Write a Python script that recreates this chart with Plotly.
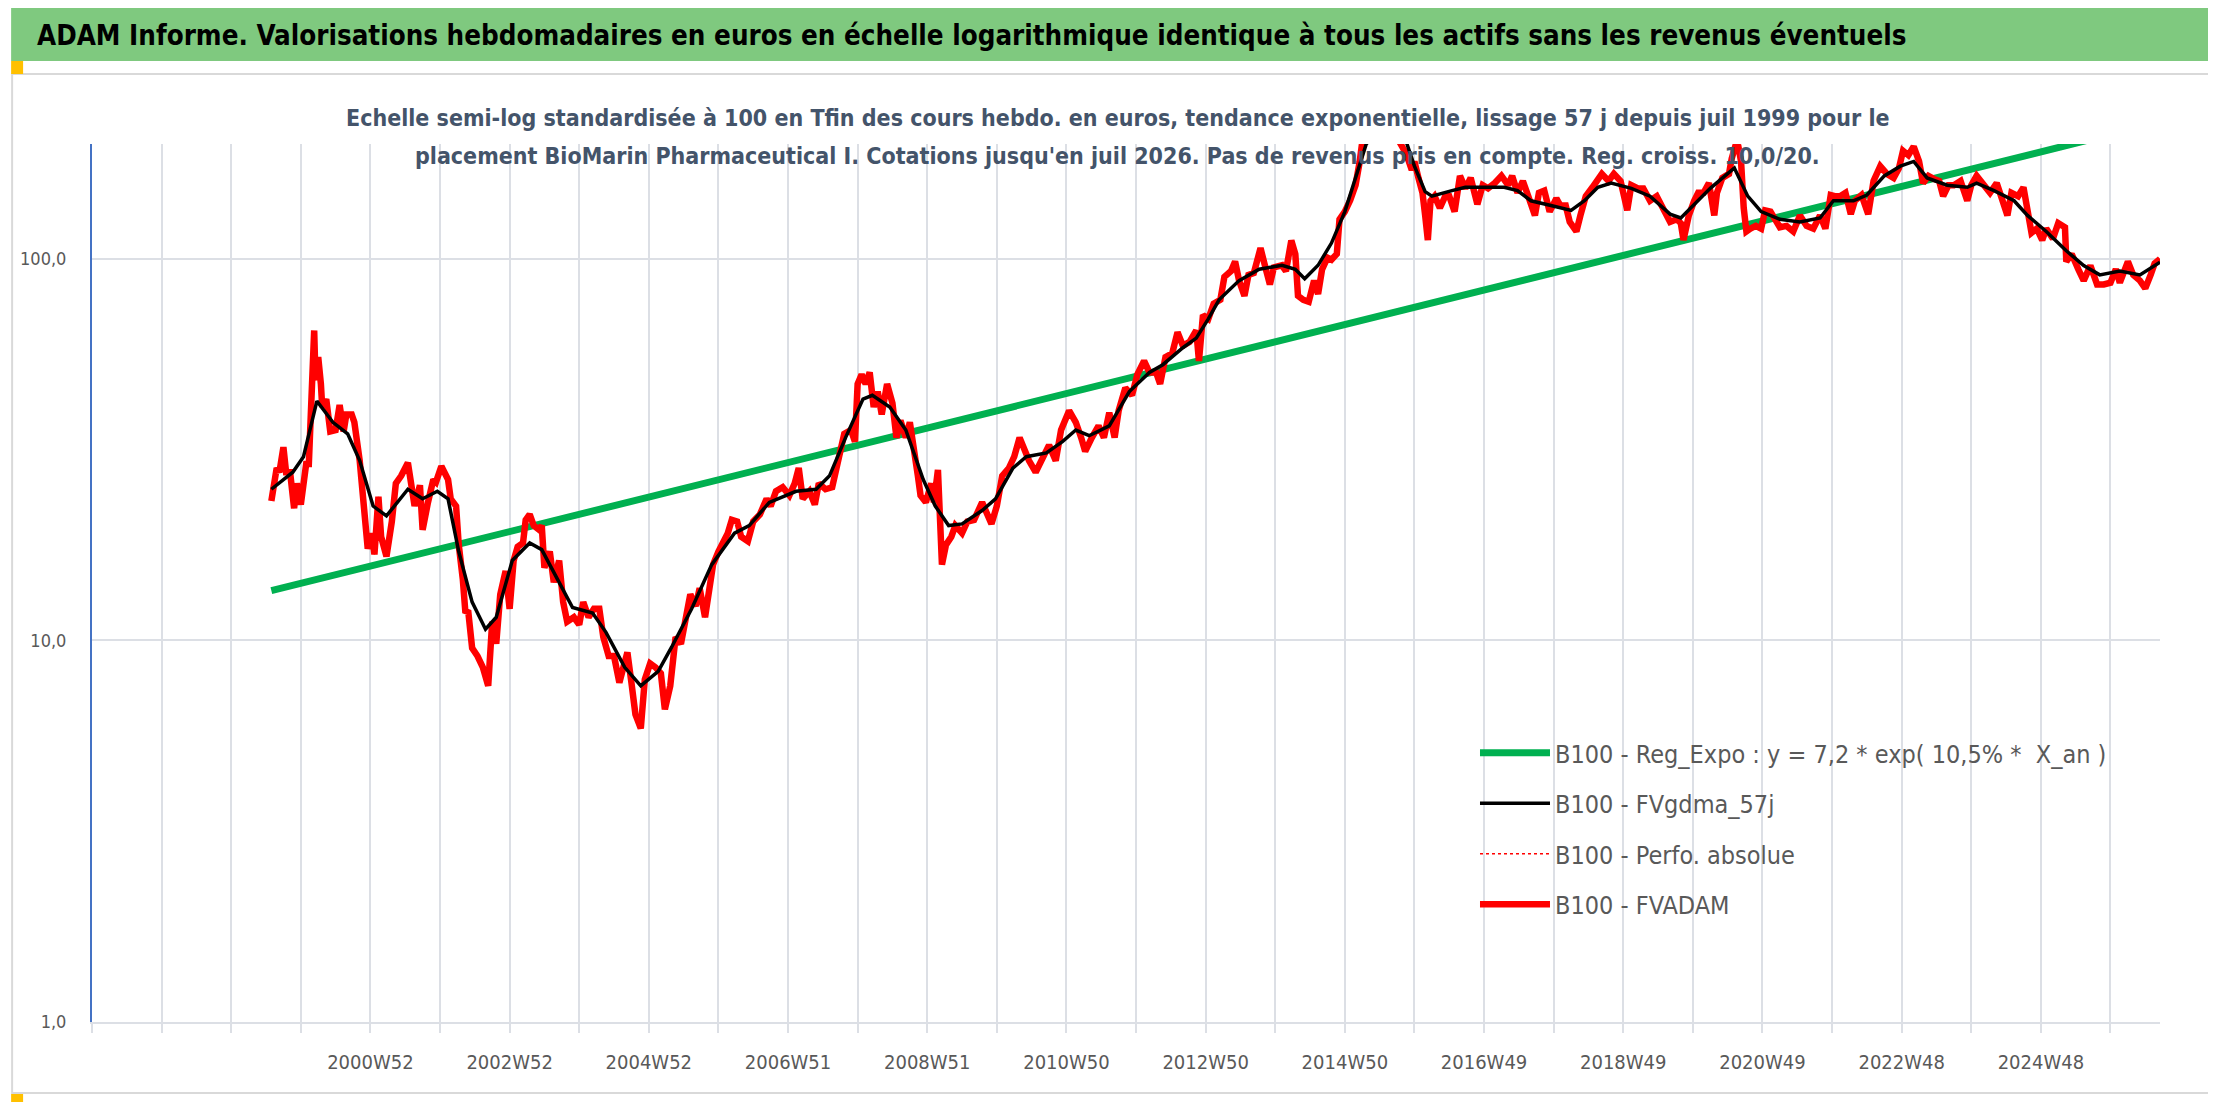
import plotly.graph_objects as go

# ---------------- data (week index from 1997W01 = 0) ----------------
tick_weeks = [208, 312, 416, 520, 624, 728, 832, 936, 1040, 1144, 1248, 1352, 1456]
tick_labels = ["2000W52", "2002W52", "2004W52", "2006W51", "2008W51", "2010W50",
               "2012W50", "2014W50", "2016W49", "2018W49", "2020W49", "2022W48", "2024W48"]

y_tick_vals = [1, 10, 100]
y_tick_text = ["1,0", "10,0", "100,0"]

# B100 - FVADAM (weekly values)
red_week = [134, 135, 138, 140, 143, 145, 148, 151, 153, 156, 160, 162, 164, 166, 167, 169, 171, 172,
            175, 178, 182, 185, 188, 190, 194, 196, 200, 202, 206, 209, 211, 214, 216, 220, 224, 227,
            231, 236, 241, 245, 247, 251, 255, 257, 261, 266, 268, 272, 274, 277, 279, 281, 284, 288,
            292, 296, 299, 302, 305, 309, 312, 315, 318, 322, 324, 327, 330, 334, 336, 338, 342, 345,
            349, 352, 355, 360, 364, 367, 371, 375, 379, 382, 386, 390, 394, 397, 400, 403, 406, 410,
            413, 417, 421, 425, 428, 432, 436, 440, 444, 447, 451, 454, 458, 461, 464, 468, 472, 475,
            478, 482, 485, 490, 494, 499, 504, 507, 511, 516, 521, 525, 528, 531, 536, 540, 543, 548,
            553, 557, 562, 567, 570, 572, 575, 578, 581, 584, 587, 590, 594, 598, 601, 604, 608, 611,
            614, 617, 619, 623, 627, 629, 632, 635, 638, 642, 645, 650, 654, 659, 665, 672, 676, 680,
            685, 689, 693, 696, 700, 705, 710, 715, 720, 724, 730, 735, 739, 742, 747, 752, 756, 760,
            764, 767, 772, 777, 781, 786, 790, 795, 798, 802, 807, 811, 815, 820, 825, 827, 830, 834,
            838, 843, 846, 851, 854, 857, 861, 864, 868, 873, 877, 880, 883, 889, 892, 896, 899, 901,
            905, 909, 913, 916, 919, 923, 926, 930, 932, 936, 940, 944, 947, 950, 955, 960, 965, 970,
            976, 982, 986, 988, 991, 994, 996, 998, 1000, 1003, 1007, 1011, 1014, 1018, 1022, 1026,
            1030, 1035, 1039, 1043, 1048, 1053, 1058, 1061, 1065, 1069, 1073, 1078, 1081, 1085, 1089,
            1094, 1097, 1101, 1104, 1109, 1112, 1116, 1121, 1125, 1128, 1133, 1137, 1142, 1147, 1150,
            1155, 1159, 1164, 1169, 1174, 1179, 1184, 1187, 1189, 1193, 1197, 1200, 1204, 1208, 1212,
            1214, 1218, 1223, 1225, 1228, 1230, 1232, 1234, 1236, 1239, 1243, 1247, 1250, 1254, 1258,
            1261, 1266, 1271, 1276, 1281, 1286, 1291, 1295, 1299, 1302, 1306, 1310, 1314, 1317, 1322,
            1327, 1331, 1336, 1341, 1346, 1350, 1353, 1357, 1361, 1365, 1368, 1372, 1376, 1380, 1383,
            1387, 1391, 1396, 1401, 1404, 1408, 1413, 1418, 1423, 1427, 1431, 1434, 1439, 1443, 1447,
            1449, 1453, 1457, 1460, 1465, 1469, 1474, 1475, 1479, 1484, 1488, 1493, 1498, 1503, 1508,
            1512, 1515, 1521, 1525, 1530, 1534, 1538, 1541, 1545]
red_val = [23.2, 24.6, 28.3, 27.6, 32.1, 27.6, 27.6, 22.2, 25.8, 22.7, 29.0, 29.0, 40.9, 64.9, 48.1, 55.3,
           47.0, 40.9, 42.9, 35.3, 35.6, 41.4, 35.3, 39.1, 39.1, 37.3, 29.6, 24.0, 17.4, 19.1, 16.8, 23.8,
           18.7, 16.6, 20.5, 25.8, 27.0, 29.2, 22.5, 25.5, 19.5, 23.0, 26.4, 26.0, 28.6, 26.4, 23.5, 22.5,
           17.8, 14.5, 11.8, 12.0, 9.55, 9.1, 8.5, 7.6, 11.2, 9.8, 13.2, 15.2, 12.1, 16.2, 17.6, 18.0,
           20.7, 21.4, 20.0, 19.5, 20.0, 15.5, 17.1, 14.2, 16.2, 12.6, 11.2, 11.5, 11.0, 12.6, 11.5,
           12.1, 12.1, 10.2, 9.1, 9.1, 7.75, 8.5, 9.3, 7.75, 6.4, 5.88, 7.9, 8.7, 8.5, 8.2, 6.6, 7.6,
           10.2, 9.8, 11.8, 13.2, 12.3, 13.7, 11.5, 13.5, 15.8, 17.1, 18.3, 19.1, 20.7, 20.5, 18.7,
           18.2, 20.5, 21.4, 23.5, 22.5, 24.6, 25.2, 24.0, 25.8, 28.3, 23.5, 24.6, 22.7, 25.8, 24.9,
           25.2, 29.6, 34.8, 35.6, 33.2, 47.0, 49.8, 47.0, 50.4, 40.9, 44.9, 39.1, 47.0, 41.9, 34.0,
           37.7, 34.0, 37.3, 32.5, 27.0, 24.0, 23.0, 25.8, 23.0, 28.0, 15.8, 17.8, 18.7, 20.0, 19.1,
           20.5, 20.7, 23.0, 20.2, 22.5, 27.0, 28.3, 30.3, 34.0, 31.7, 29.6, 27.6, 30.3, 32.5, 29.6,
           35.6, 40.0, 37.3, 34.0, 31.3, 34.0, 36.5, 34.0, 39.5, 34.0, 40.0, 45.9, 43.9, 49.8, 54.0,
           50.4, 50.4, 47.0, 55.3, 56.5, 64.2, 59.2, 60.6, 64.9, 54.0, 71.2, 69.6, 76.3, 78.1, 89.7,
           92.9, 98.4, 87.7, 80.0, 90.8, 91.8, 106.7, 93.9, 85.7, 95.0, 96.2, 92.9, 111.7, 103.0, 80.0,
           78.1, 77.2, 87.7, 80.9, 93.9, 100.7, 99.5, 103.0, 126.9, 132.9, 142.4, 156.0, 179.0, 215.0,
           230.0, 220.0, 235.0, 215.0, 205.0, 188.0, 171.0, 180.0, 163.0, 149.0, 130.0, 112.0, 142.0,
           146.0, 136.0, 146.0, 146.0, 133.0, 165.0, 153.0, 163.0, 139.0, 156.0, 153.0, 158.0, 165.0,
           156.0, 165.0, 149.0, 160.0, 146.0, 130.0, 149.0, 151.0, 133.0, 144.0, 138.0, 138.0, 125.0,
           118.0, 130.0, 146.0, 154.0, 163.0, 167.0, 160.0, 167.0, 160.0, 134.0, 156.0, 153.0, 153.0,
           142.0, 146.0, 134.0, 125.0, 127.0, 124.0, 112.0, 130.0, 142.0, 149.0, 149.0, 158.0, 130.0,
           149.0, 163.0, 167.0, 183.0, 199.0, 197.0, 180.0, 136.0, 118.0, 120.0, 122.0, 120.0, 134.0,
           133.0, 127.0, 121.0, 122.0, 118.0, 130.0, 122.0, 120.0, 130.0, 120.0, 147.0, 146.0, 146.0,
           149.0, 131.0, 142.0, 147.0, 131.0, 160.0, 175.0, 167.0, 163.0, 173.0, 192.0, 187.0, 197.0,
           180.0, 158.0, 165.0, 162.0, 160.0, 146.0, 156.0, 156.0, 160.0, 142.0, 156.0, 165.0, 156.0,
           149.0, 158.0, 144.0, 130.0, 149.0, 146.0, 154.0, 130.0, 117.0, 120.0, 112.0, 120.0, 113.0,
           124.0, 121.0, 98.4, 103.0, 93.9, 87.7, 96.0, 85.7, 85.7, 86.6, 93.9, 86.6, 98.4, 90.8, 87.7,
           83.7, 90.8, 97.3, 100.0]

# B100 - FVgdma_57j (smoothed line)
black_week = [134, 150, 158, 168, 180, 191, 200, 210, 220, 230, 236, 247, 258, 266, 274, 284, 294, 302,
              314, 327, 336, 349, 359, 374, 384, 398, 410, 423, 433, 448, 463, 480, 491, 506, 526, 541,
              551, 563, 576, 583, 596, 608, 621, 630, 640, 650, 665, 675, 688, 698, 713, 725, 735, 745,
              760, 775, 790, 800, 815, 825, 834, 842, 857, 872, 889, 899, 906, 916, 926, 936, 946, 952,
              960, 970, 980, 988, 996, 1001, 1016, 1026, 1040, 1055, 1065, 1075, 1090, 1105, 1115, 1125,
              1135, 1150, 1164, 1179, 1187, 1197, 1209, 1220, 1227, 1237, 1247, 1261, 1276, 1291, 1301,
              1316, 1326, 1339, 1351, 1361, 1371, 1386, 1401, 1408, 1421, 1436, 1446, 1460, 1475, 1488,
              1500, 1515, 1530, 1545]
black_val = [24.9, 27.6, 30.3, 42.4, 37.3, 34.8, 29.6, 22.5, 21.2, 23.5, 24.9, 23.5, 24.6, 23.5, 17.1,
             12.6, 10.7, 11.5, 16.2, 18.0, 17.3, 14.2, 12.2, 11.8, 10.5, 8.5, 7.6, 8.3, 9.6, 12.1, 15.8,
             19.1, 20.0, 23.0, 24.6, 24.9, 27.0, 34.0, 42.9, 43.9, 40.9, 35.6, 26.4, 22.5, 20.0, 20.2,
             21.9, 23.5, 28.3, 30.3, 31.0, 33.2, 35.6, 34.4, 36.5, 44.9, 50.4, 52.8, 58.5, 62.0, 69.6,
             78.1, 87.7, 93.9, 96.2, 93.9, 88.7, 96.2, 110.0, 133.0, 171.0, 200.0, 215.0, 220.0, 212.0,
             175.0, 150.0, 146.0, 151.0, 154.0, 154.0, 154.0, 151.0, 142.0, 138.0, 134.0, 142.0, 154.0,
             158.0, 153.0, 146.0, 131.0, 128.0, 139.0, 153.0, 165.0, 173.0, 146.0, 133.0, 127.0, 125.0,
             128.0, 142.0, 142.0, 147.0, 165.0, 175.0, 180.0, 163.0, 156.0, 154.0, 158.0, 151.0, 142.0,
             130.0, 118.0, 105.0, 96.0, 90.8, 92.9, 90.8, 98.0]

# B100 - Reg_Expo : y = 7,2 * exp(10,5% * X_an)  (straight on semi-log scale, two end points)
green_week = [134, 1545]
green_val = [13.5, 228.0]

# ---------------- figure ----------------
W, H = 2216, 1102
L, R, T, B = 81, 2152, 136, 1014
PW, PH = R - L, B - T


def px(x):
    return (x - L) / PW


def py(y):
    return (B - y) / PH


FONT = "Liberation Sans Narrow, DejaVu Sans Condensed, Roboto Condensed, Arial Narrow, sans-serif"
GRID = "#DCDFE5"

fig = go.Figure()
fig.add_trace(go.Scatter(x=green_week, y=green_val, mode="lines", name="B100 - Reg_Expo : y = 7,2 * exp( 10,5% *  X_an )",
                         line=dict(color="#00B050", width=7), legendrank=1, legendgroup="a"))
fig.add_trace(go.Scatter(x=red_week, y=red_val, mode="lines", name="B100 - FVADAM",
                         line=dict(color="#FF0000", width=6.5), legendrank=4, legendgroup="d"))
fig.add_trace(go.Scatter(x=red_week, y=red_val, mode="lines", name="B100 - Perfo. absolue",
                         line=dict(color="#FF0000", width=1.5, dash="dot"), legendrank=3, legendgroup="c"))
fig.add_trace(go.Scatter(x=black_week, y=black_val, mode="lines", name="B100 - FVgdma_57j",
                         line=dict(color="#000000", width=3.5), legendrank=2, legendgroup="b"))

shapes = [
    # green title band
    dict(type="rect", xref="paper", yref="paper", x0=px(0), x1=px(W), y0=py(53), y1=py(0),
         fillcolor="#7FC97F", line=dict(width=0), layer="below"),
    # chart frame
    dict(type="rect", xref="paper", yref="paper", x0=px(1), x1=px(2207), y0=py(1085), y1=py(66),
         fillcolor="rgba(0,0,0,0)", line=dict(color="#D9D9D9", width=2), layer="below"),
    # handles
    dict(type="rect", xref="paper", yref="paper", x0=px(0), x1=px(12), y0=py(66), y1=py(53),
         fillcolor="#FFC000", line=dict(width=0)),
    dict(type="rect", xref="paper", yref="paper", x0=px(2202), x1=px(W), y0=py(67), y1=py(53),
         fillcolor="#FFC000", line=dict(width=0)),
    dict(type="rect", xref="paper", yref="paper", x0=px(0), x1=px(12), y0=py(1100), y1=py(1086),
         fillcolor="#FFC000", line=dict(width=0)),
    dict(type="rect", xref="paper", yref="paper", x0=px(2202), x1=px(W), y0=py(1100), y1=py(1040),
         fillcolor="#FFC000", line=dict(width=0)),
]

annotations = [
    dict(xref="paper", yref="paper", x=px(24), y=py(27), xanchor="left", yanchor="middle", showarrow=False,
         text="<b>ADAM Informe. Valorisations hebdomadaires en euros en échelle logarithmique identique à tous les actifs sans les revenus éventuels</b>",
         font=dict(family=FONT, size=27.5, color="#000000")),
    dict(xref="paper", yref="paper", x=px(1108), y=py(110), xanchor="center", yanchor="middle", showarrow=False,
         text="<b>Echelle semi-log standardisée à 100 en Tfin des cours hebdo. en euros, tendance exponentielle, lissage 57 j depuis juil 1999 pour le</b>",
         font=dict(family=FONT, size=23, color="#44546A")),
    dict(xref="paper", yref="paper", x=px(1108), y=py(148), xanchor="center", yanchor="middle", showarrow=False,
         text="<b>placement BioMarin Pharmaceutical I. Cotations jusqu'en juil 2026. Pas de revenus pris en compte. Reg. croiss. 10,0/20.</b>",
         font=dict(family=FONT, size=23, color="#44546A")),
]

fig.update_layout(
    width=W, height=H,
    margin=dict(l=L, r=W - R, t=T, b=H - B, pad=0),
    paper_bgcolor="#FFFFFF", plot_bgcolor="#FFFFFF",
    shapes=shapes, annotations=annotations,
    showlegend=True,
    legend=dict(x=px(1466), y=py(722), xanchor="left", yanchor="top",
                font=dict(family=FONT, size=25, color="#595959"),
                bgcolor="rgba(0,0,0,0)", itemwidth=70, tracegroupgap=15, traceorder="grouped"),
    xaxis=dict(range=[0, 1545], tickmode="array", tickvals=tick_weeks, ticktext=tick_labels,
               showgrid=True, gridcolor=GRID, gridwidth=2, zeroline=False,
               showline=True, linecolor=GRID, linewidth=2,
               ticks="outside", ticklen=9, tickcolor=GRID, tickwidth=2,
               minor=dict(tick0=0, dtick=52, showgrid=True, gridcolor=GRID, gridwidth=2,
                          ticks="outside", ticklen=9, tickcolor=GRID, tickwidth=2),
               tickfont=dict(family=FONT, size=20, color="#595959"), ticklabelstandoff=12),
    yaxis=dict(type="log", range=[0, 2.30103], tickmode="array", tickvals=y_tick_vals, ticktext=y_tick_text,
               showgrid=True, gridcolor=GRID, gridwidth=2, zeroline=False,
               showline=True, linecolor="#4472C4", linewidth=2, ticks="",
               tickfont=dict(family=FONT, size=18, color="#595959"), ticklabelstandoff=20),
)

fig.write_html("out.html")
